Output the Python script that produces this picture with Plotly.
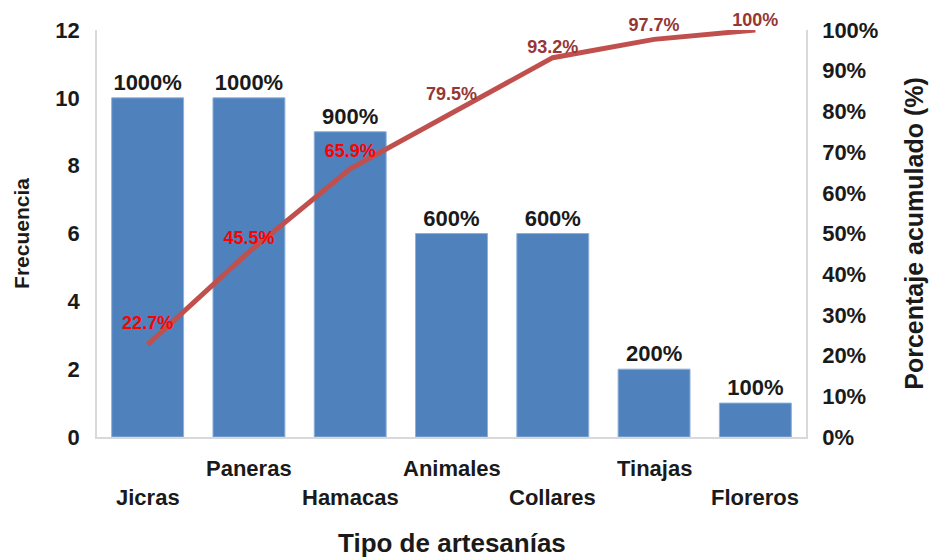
import plotly.graph_objects as go

# Data
categorias = ["Jicras", "Paneras", "Hamacas", "Animales", "Collares", "Tinajas", "Floreros"]
frecuencia = [10, 10, 9, 6, 6, 2, 1]
acumulado = [22.7, 45.5, 65.9, 79.5, 93.2, 97.7, 100]
etiquetas_acum = [f"{v:g}%" for v in acumulado]
colores_acum = ["#FF0000", "#FF0000", "#FF0000", "#953735", "#953735", "#953735", "#953735"]

FONT = "Liberation Sans, Arial, sans-serif"
INK = "#1a1a1a"

fig = go.Figure()

fig.add_trace(go.Bar(
    x=categorias,
    y=frecuencia,
    marker=dict(color="#4F81BD", line=dict(color="#8DB0DA", width=1)),
    width=0.71,
    texttemplate="%{y:.0%}",
    textposition="outside",
    textfont=dict(family=FONT, size=22, color=INK, weight="bold"),
    cliponaxis=False,
    showlegend=False,
))

# cumulative percentage line; invisible markers set how far each label sits above the line
fig.add_trace(go.Scatter(
    x=categorias,
    y=acumulado,
    yaxis="y2",
    mode="lines+markers+text",
    line=dict(color="#C0504D", width=5),
    marker=dict(size=[16, 4, 10, 12, 0, 4, 0], opacity=0),
    text=etiquetas_acum,
    textposition="top center",
    textfont=dict(family=FONT, size=18, color=colores_acum, weight="bold"),
    cliponaxis=False,
    showlegend=False,
))

# staggered category labels under the axis
for i, c in enumerate(categorias):
    fig.add_annotation(
        x=c, xref="x", y=-0.077 if i % 2 else -0.148, yref="paper",
        text=c, showarrow=False, yanchor="middle",
        font=dict(family=FONT, size=22, color=INK, weight="bold"),
    )

fig.add_annotation(
    x=0.5, xref="paper", y=-0.26, yref="paper",
    text="Tipo de artesanías", showarrow=False, yanchor="middle",
    font=dict(family=FONT, size=26, color=INK, weight="bold"),
)

fig.update_layout(
    width=934, height=557,
    margin=dict(l=97, r=128, t=30, b=120),
    paper_bgcolor="white", plot_bgcolor="white",
    xaxis=dict(
        type="category", range=[-0.5, 6.5], showticklabels=False,
        showline=True, linecolor="#D9D9D9", linewidth=1.5, ticks="",
        showgrid=False, zeroline=False, automargin=False,
    ),
    yaxis=dict(
        range=[0, 12], dtick=2, showgrid=False, zeroline=False,
        showline=True, linecolor="#D9D9D9", linewidth=1.5, ticks="",
        ticklabelstandoff=11, automargin=False,
        tickfont=dict(family=FONT, size=22, color=INK, weight="bold"),
        title=dict(text="Frecuencia", standoff=20,
                   font=dict(family=FONT, size=21, color=INK, weight="bold")),
    ),
    yaxis2=dict(
        overlaying="y", side="right", range=[0, 100], dtick=10,
        ticksuffix="%", showgrid=False, zeroline=False,
        showline=True, linecolor="#D9D9D9", linewidth=1.5, ticks="",
        ticklabelstandoff=10, automargin=False,
        tickfont=dict(family=FONT, size=22, color=INK, weight="bold"),
        title=dict(text="Porcentaje acumulado (%)", standoff=28,
                   font=dict(family=FONT, size=25, color=INK, weight="bold")),
    ),
)

fig.write_html("out.html")
